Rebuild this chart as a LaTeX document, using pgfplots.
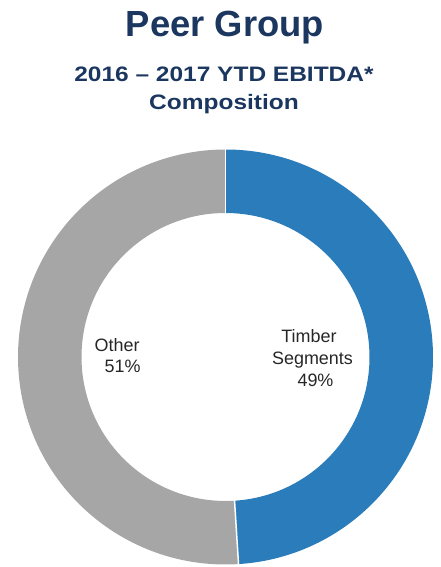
\documentclass[border=0pt]{standalone}
\usepackage{pgfplots}
\pgfplotsset{compat=1.18}
\usepackage{pgfplotstable}
\usepackage{fontspec}
\setmainfont{Liberation Sans}

\definecolor{navy}{HTML}{1B365F}
\definecolor{timber}{HTML}{2A7DBA}
\definecolor{other}{HTML}{A6A6A6}

% share of EBITDA, in percent (clockwise from 12 o'clock)
\pgfplotstableread{
label  value
Timber 49
Other  51
}\donutdata

\newcommand\Ro{207.5bp}
\newcommand\Ri{144bp}

\begin{document}
\begin{tikzpicture}
\useasboundingbox (-18bp,-2.5bp) rectangle (423bp,564.5bp);

\pgfplotstablegetelem{0}{value}\of\donutdata
\pgfmathsetmacro\vTimber{\pgfplotsretval}
\pgfmathsetmacro\eTimber{90-3.6*\vTimber}
\pgfmathsetmacro\eTimberB{\eTimber+360}

\begin{axis}[
  at={(0,0)}, anchor=south west,
  scale only axis,
  width=415bp, height=415bp,
  xmin=-1, xmax=1, ymin=-1, ymax=1,
  hide axis,
  clip=false,
]
\begin{scope}[shift={(axis cs:0,0)}]
  \fill[timber] (90:\Ro) arc[start angle=90, end angle=\eTimber, radius=\Ro]
    -- (\eTimber:\Ri) arc[start angle=\eTimber, end angle=90, radius=\Ri] -- cycle;
  \fill[other] (\eTimber:\Ro) arc[start angle=\eTimber, end angle=-270, radius=\Ro]
    -- (90:\Ri) arc[start angle=90, end angle=\eTimberB, radius=\Ri] -- cycle;
  \draw[white, line width=1.5bp] (90:\Ri-1bp) -- (90:\Ro+1bp);
  \draw[white, line width=1.5bp] (\eTimber:\Ri-1bp) -- (\eTimber:\Ro+1bp);
\end{scope}
\end{axis}

% titles
\node[anchor=base, text=navy, font=\bfseries\fontsize{36.5}{40}\selectfont]
  at (207bp,527.5bp) {Peer Group};
\node[anchor=base, text=navy, xscale=1.17, font=\bfseries\fontsize{21}{25}\selectfont]
  at (206bp,482.5bp) {2016 -- 2017 YTD EBITDA*};
\node[anchor=base, text=navy, xscale=1.17, font=\bfseries\fontsize{21}{25}\selectfont]
  at (206bp,454.5bp) {Composition};

% slice labels
\begin{scope}[font=\fontsize{18}{22}\selectfont, text=black!85]
  \node[anchor=base east] at (125bp,212.5bp) {Other};
  \node[anchor=base east] at (126bp,191.5bp) {51\%};
  \node[anchor=base] at (291bp,221.5bp) {Timber};
  \node[anchor=base] at (294.5bp,199.5bp) {Segments};
  \node[anchor=base] at (297.5bp,177.5bp) {49\%};
\end{scope}
\end{tikzpicture}
\end{document}
